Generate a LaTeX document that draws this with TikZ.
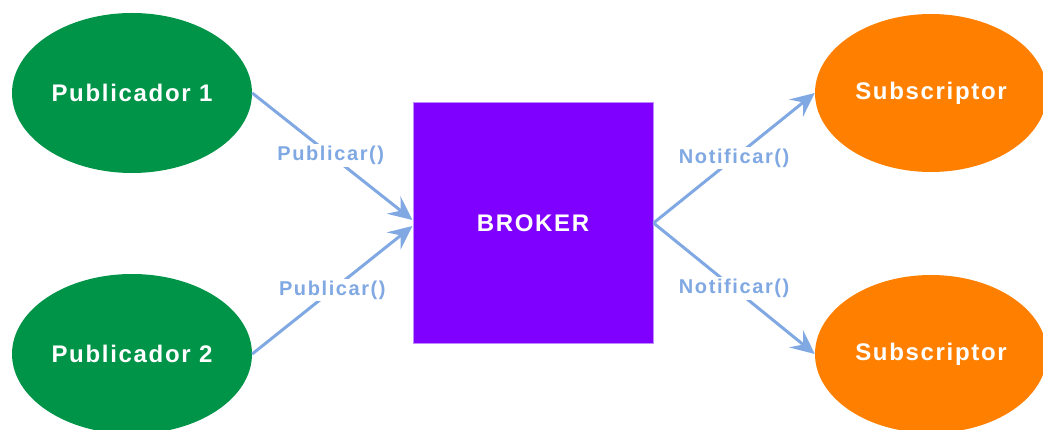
\documentclass[tikz,border=0pt]{standalone}
\usepackage{fontspec}
\setmainfont{Liberation Sans}
\usetikzlibrary{shapes.geometric,arrows.meta}
\definecolor{pubgreen}{RGB}{0,148,72}
\definecolor{suborange}{RGB}{255,128,0}
\definecolor{brokerpurple}{RGB}{128,0,255}
\definecolor{brokeredge}{RGB}{190,140,255}
\definecolor{arrowblue}{RGB}{128,168,226}
\newfontfamily\widefont[LetterSpace=7]{Liberation Sans}
\newfontfamily\lblfont[LetterSpace=8]{Liberation Sans}
\tikzset{
  pub/.style={ellipse, fill=pubgreen, minimum width=240pt, minimum height=160pt, inner sep=0pt, text=white, font=\widefont\bfseries\fontsize{24}{28}\selectfont},
  sub/.style={ellipse, fill=suborange, minimum width=232pt, minimum height=158pt, inner sep=0pt, text=white, font=\widefont\bfseries\fontsize{24}{28}\selectfont},
  brokerbox/.style={rectangle, fill=brokerpurple, draw=brokeredge, line width=1pt, minimum width=240pt, minimum height=240pt, inner sep=0pt, text=white, font=\widefont\bfseries\fontsize{24}{28}\selectfont},
  conn/.style={arrowblue, line width=3pt, -{Stealth[length=24pt,width=22pt,inset=9pt]}},
  lbl/.style={fill=white, text=arrowblue, inner sep=2pt, font=\lblfont\bfseries\fontsize{20}{24}\selectfont}
}
\begin{document}
\begin{tikzpicture}[x=1pt,y=-1pt]
\useasboundingbox (0,0) rectangle (1043,430);
\node[pub] (p1) at (132,93) {Publicador 1};
\node[pub] (p2) at (132,354) {Publicador 2};
\node[sub] (s1) at (931,93) {Subscriptor};
\node[sub] (s2) at (931,354) {Subscriptor};
\node[brokerbox] (b) at (533,223) {BROKER};
\coordinate (bin1) at ([yshift=3pt]b.west);
\coordinate (bin2) at ([yshift=-3pt]b.west);
\draw[conn] (p1.east) -- node[lbl, pos=0.49] {Publicar()} (bin1);
\draw[conn] (p2.east) -- node[lbl, pos=0.5] {Publicar()} (bin2);
\draw[conn] (b.east) -- node[lbl, pos=0.5] {Notificar()} (s1.west);
\draw[conn] (b.east) -- node[lbl, pos=0.5] {Notificar()} (s2.west);
\end{tikzpicture}
\end{document}
